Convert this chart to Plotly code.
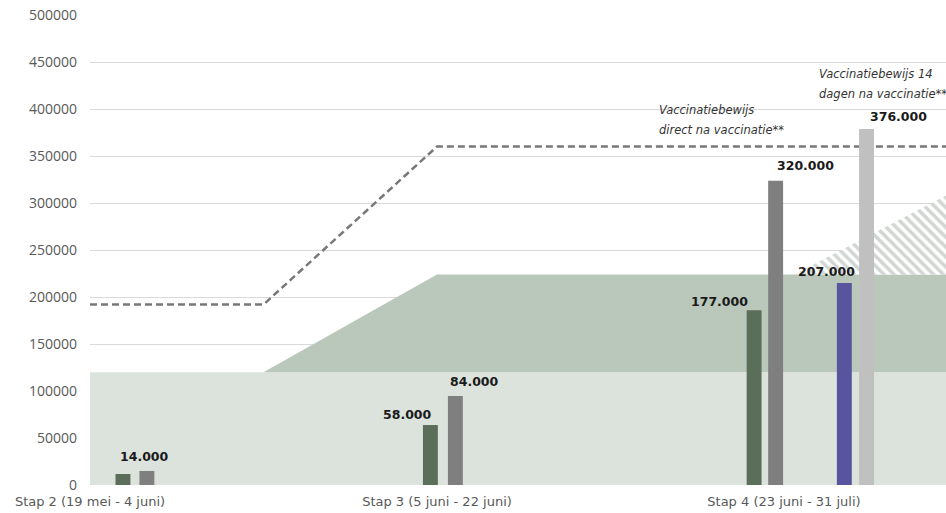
import plotly.graph_objects as go

# ---------------- data ----------------
stage_labels = ["Stap 2 (19 mei - 4 juni)", "Stap 3 (5 juni - 22 juni)", "Stap 4 (23 juni - 31 juli)"]
stage_ticks = [0, 1, 2]

# dashed capacity line (vaccinatiebewijs direct na vaccinatie)
dashed_x = [0, 0.5, 1, 2.47]
dashed_y = [192000, 192000, 360000, 360000]

# light base area
base_x = [0, 2.47]
base_y = [120000, 120000]

# darker area (upper boundary; lower boundary is the base area)
upper_x = [0.5, 1, 2.47]
upper_y = [120000, 224000, 224000]

# hatched area (upper boundary; lower boundary 224000)
hatch_x = [2.03, 2.47]
hatch_y = [224000, 308500]

# bars
bar_stage = [0, 0, 1, 1, 2, 2, 2, 2]
bar_values = [11700, 14900, 63800, 94700, 186000, 323700, 215000, 378700]
bar_labels = ["", "14.000", "58.000", "84.000", "177.000", "320.000", "207.000", "376.000"]

note_direct = ["Vaccinatiebewijs", "direct na vaccinatie**"]
note_14 = ["Vaccinatiebewijs 14", "dagen na vaccinatie**"]

y_ticks = [0, 50000, 100000, 150000, 200000, 250000, 300000, 350000, 400000, 450000, 500000]

# ---------------- styling / layout ----------------
bar_offsets = [0.095, 0.164, -0.019, 0.053, -0.086, -0.024, 0.174, 0.238]
bar_colors = ["#5b6e5a", "#7f7f7f", "#5b6e5a", "#7f7f7f", "#5b6e5a", "#7f7f7f", "#58559e", "#c0c0c0"]
label_dx = [0, -0.007, -0.065, 0.056, -0.101, 0.085, -0.050, 0.092]
label_dy = [0, 14900, 11700, 15900, 9700, 15700, 12000, 13100]
XR = [0, 2.467]
YR = [0, 500000]

fig = go.Figure()

# light area
fig.add_trace(go.Scatter(
    x=[base_x[0]] + base_x + [base_x[-1]],
    y=[0] + base_y + [0],
    fill="toself", fillcolor="#dce3dd", line=dict(width=0),
    mode="lines", hoverinfo="skip", showlegend=False))

# darker area
fig.add_trace(go.Scatter(
    x=upper_x + [upper_x[-1], upper_x[0]],
    y=upper_y + [base_y[0], base_y[0]],
    fill="toself", fillcolor="#b9c8bb", line=dict(width=0),
    mode="lines", hoverinfo="skip", showlegend=False))

# hatched area
fig.add_trace(go.Scatter(
    x=hatch_x + [hatch_x[-1], hatch_x[0]],
    y=hatch_y + [hatch_y[0], hatch_y[0]],
    fill="toself", fillcolor="rgba(0,0,0,0)",
    fillpattern=dict(shape="\\", fgcolor="#a3ada5", bgcolor="white", size=7, solidity=0.5),
    line=dict(width=0), mode="lines", hoverinfo="skip", showlegend=False))

# dashed line
fig.add_trace(go.Scatter(
    x=dashed_x, y=dashed_y, mode="lines",
    line=dict(color="#787878", width=2.5, dash="7px,4px"),
    hoverinfo="skip", showlegend=False))

# bars on overlay axes so they sit above the areas
bx = [s + o for s, o in zip(bar_stage, bar_offsets)]
fig.add_trace(go.Bar(
    x=bx, y=bar_values, width=0.043, marker=dict(color=bar_colors, line=dict(width=0)),
    xaxis="x2", yaxis="y2", showlegend=False, hoverinfo="skip"))

anns = []
for xv, yv, lab, dx, dy in zip(bx, bar_values, bar_labels, label_dx, label_dy):
    if not lab:
        continue
    anns.append(dict(x=xv + dx, y=yv + dy, text="<b>" + lab + "</b>", showarrow=False, xref="x", yref="y",
                     font=dict(family="DejaVu Sans", size=12.5, color="#1a1a1a"),
                     xanchor="center", yanchor="middle"))
note_font = dict(family="DejaVu Sans", size=11.5, color="#333333")
for txt, yv in zip(note_direct, [398900, 377700]):
    anns.append(dict(x=1.634, y=yv, text="<i>" + txt + "</i>", showarrow=False, xref="x", yref="y",
                     xanchor="left", yanchor="middle", font=note_font))
for txt, yv in zip(note_14, [437200, 415600]):
    anns.append(dict(x=2.094, y=yv, text="<i>" + txt + "</i>", showarrow=False, xref="x", yref="y",
                     xanchor="left", yanchor="middle", font=note_font))

fig.update_layout(
    width=946, height=513,
    margin=dict(l=90, r=0, t=15, b=28),
    paper_bgcolor="white", plot_bgcolor="white",
    barmode="overlay",
    annotations=anns,
    xaxis=dict(range=XR, tickvals=stage_ticks, ticktext=stage_labels, showgrid=False,
               zeroline=False, showline=False, ticks="", ticklabelstandoff=7,
               tickfont=dict(family="DejaVu Sans", size=13, color="#595959")),
    yaxis=dict(range=YR, tickvals=y_ticks, ticktext=[str(v) for v in y_ticks],
               showgrid=True, gridcolor="#d9d9d9", gridwidth=1, zeroline=False, showline=False,
               ticks="", ticklabelstandoff=12,
               tickfont=dict(family="Open Sans", size=14, color="#595959")),
    xaxis2=dict(range=XR, overlaying="x", visible=False),
    yaxis2=dict(range=YR, overlaying="y", visible=False),
)

fig.write_html("out.html", config={"displayModeBar": False},
               post_script="document.body.style.margin='0';document.body.style.overflow='hidden';")
